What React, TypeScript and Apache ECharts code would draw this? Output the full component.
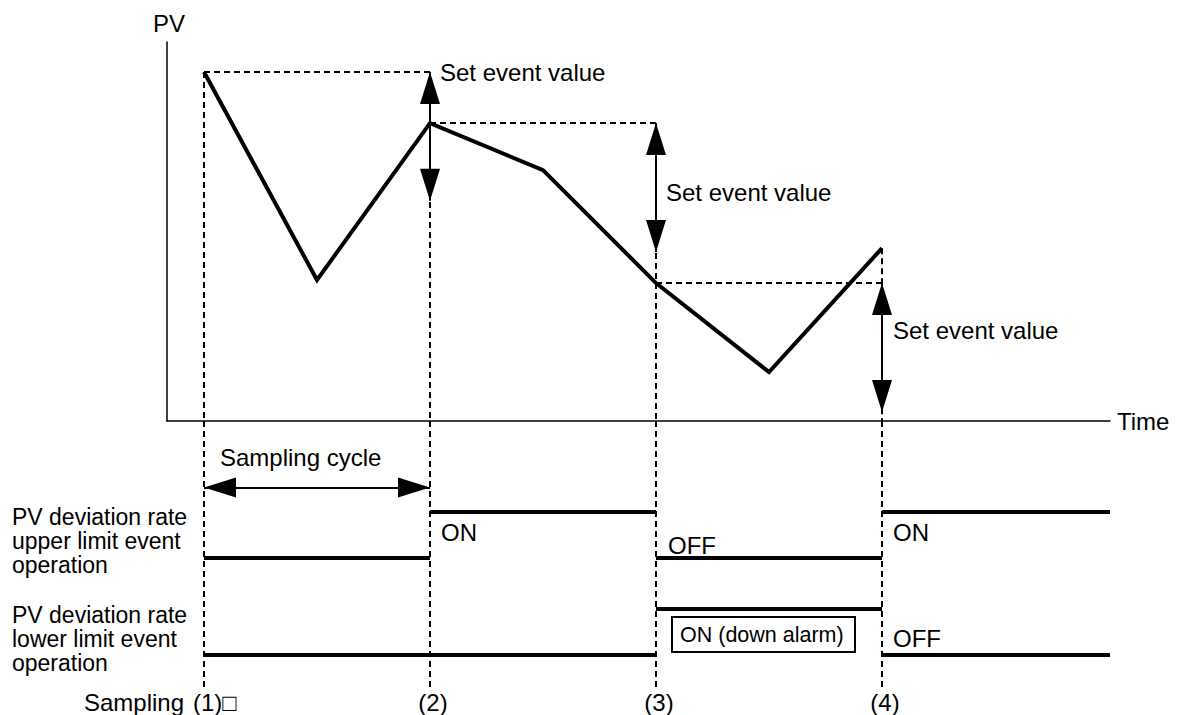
import React, { useEffect, useRef } from "react";
import * as echarts from "echarts";

// ---- data ----
const sampleTimes = [0, 1, 2, 3];
const sampleLabels = ["(1)□", "(2)", "(3)", "(4)"];
const pvTimes = [0, 0.5, 1, 1.5, 2, 2.5, 3];
const pvValues = [92.1, 37.2, 78.6, 66.2, 36.4, 12.9, 45.6];
const setEventValue = 34;
// event states per sampling interval (1 = ON, 0 = OFF)
const upperStates = [0, 1, 0, 1];
const lowerStates = [0, 0, 1, 0];
// lane levels in the timing panel (0..100)
const upperLevels = { on: 66, off: 48.5 };
const lowerLevels = { on: 29.3, off: 12 };
const cycleArrowLevel = 75;
const upperLabel = ["PV deviation rate", "upper limit event", "operation"];
const lowerLabel = ["PV deviation rate", "lower limit event", "operation"];

// ---- layout ----
const X_MIN = -37 / 226;
const X_MAX = 906 / 226;
const FONT = "Liberation Sans, Arial, Helvetica, sans-serif";
const FS = 24;
const ARROW = "path://M0,0M0,32L-10,64L10,64Z";
const ARROW_SIZE = [[20, 64], [20, 64]];

export default function App() {
  const ref = useRef<HTMLDivElement>(null);
  useEffect(() => {
    if (!ref.current) return;
    const chart = echarts.init(ref.current, undefined, { renderer: "svg" });

    const samplePV = sampleTimes.map((t) => pvValues[pvTimes.indexOf(t)]);
    const dashH = samplePV.slice(0, -1).map((v, i) => ({
      coords: [[sampleTimes[i], v], [sampleTimes[i + 1], v]],
    }));
    const dashV0 = sampleTimes.map((t, i) => ({
      coords: [[t, i > 0 ? Math.max(samplePV[i], samplePV[i - 1]) : samplePV[i]], [t, 0]],
    }));
    const dashV1 = sampleTimes.map((t) => ({ coords: [[t, 100], [t, 0]] }));
    const arrows = sampleTimes.slice(1).map((t, i) => ({
      coords: [[t, samplePV[i]], [t, samplePV[i] - setEventValue]],
    }));
    const bounds = [...sampleTimes, X_MAX];
    const laneSegs = (states: number[], lv: { on: number; off: number }) =>
      states.map((s, i) => ({
        coords: [[bounds[i], s ? lv.on : lv.off], [bounds[i + 1], s ? lv.on : lv.off]],
      }));

    const txt = (text: string, x: number, y: number, align = "left", size = FS) => ({
      type: "text",
      x,
      y,
      silent: true,
      style: {
        text,
        fill: "#000",
        fontFamily: FONT,
        fontSize: size,
        align,
        verticalAlign: "middle",
      },
    });

    const dashStyle = { color: "#000", width: 2, opacity: 1, type: [6, 4] as any };
    const hidden = {
      axisTick: { show: false },
      axisLabel: { show: false },
      splitLine: { show: false },
    };

    chart.setOption({
      animation: false,
      grid: [
        { left: 167, top: 42, width: 943, height: 379 },
        { left: 167, top: 421, width: 943, height: 266 },
      ],
      xAxis: [
        {
          gridIndex: 0,
          type: "value",
          min: X_MIN,
          max: X_MAX,
          axisLine: { show: true, onZero: false, lineStyle: { color: "#000", width: 1.5 } },
          ...hidden,
        },
        { gridIndex: 1, type: "value", min: X_MIN, max: X_MAX, show: false },
      ],
      yAxis: [
        {
          gridIndex: 0,
          type: "value",
          min: 0,
          max: 100,
          axisLine: { show: true, onZero: false, lineStyle: { color: "#000", width: 1.5 } },
          ...hidden,
        },
        { gridIndex: 1, type: "value", min: 0, max: 100, show: false },
      ],
      series: [
        {
          type: "lines",
          coordinateSystem: "cartesian2d",
          xAxisIndex: 0,
          yAxisIndex: 0,
          symbol: "none",
          lineStyle: dashStyle,
          data: [...dashH, ...dashV0],
          z: 2,
        },
        {
          type: "lines",
          coordinateSystem: "cartesian2d",
          xAxisIndex: 1,
          yAxisIndex: 1,
          symbol: "none",
          lineStyle: dashStyle,
          data: dashV1,
          z: 2,
        },
        {
          type: "line",
          xAxisIndex: 0,
          yAxisIndex: 0,
          data: pvTimes.map((t, i) => [t, pvValues[i]]),
          symbol: "none",
          lineStyle: { color: "#000", width: 4, join: "miter" },
          z: 5,
        },
        {
          type: "lines",
          coordinateSystem: "cartesian2d",
          xAxisIndex: 0,
          yAxisIndex: 0,
          symbol: [ARROW, ARROW],
          symbolSize: ARROW_SIZE,
          itemStyle: { color: "#000", opacity: 1 },
          lineStyle: { color: "#000", width: 2, opacity: 1, type: "solid" },
          data: arrows,
          z: 6,
        },
        {
          type: "lines",
          coordinateSystem: "cartesian2d",
          xAxisIndex: 1,
          yAxisIndex: 1,
          symbol: [ARROW, ARROW],
          symbolSize: ARROW_SIZE,
          itemStyle: { color: "#000", opacity: 1 },
          lineStyle: { color: "#000", width: 2, opacity: 1, type: "solid" },
          data: [{ coords: [[sampleTimes[0], cycleArrowLevel], [sampleTimes[1], cycleArrowLevel]] }],
          z: 6,
        },
        {
          type: "lines",
          coordinateSystem: "cartesian2d",
          xAxisIndex: 1,
          yAxisIndex: 1,
          symbol: "none",
          lineStyle: { color: "#000", width: 4, opacity: 1, type: "solid" },
          data: [...laneSegs(upperStates, upperLevels), ...laneSegs(lowerStates, lowerLevels)],
          z: 5,
        },
      ],
    });

    const px = (t: number) => chart.convertToPixel({ gridIndex: 0 }, [t, 0])[0];
    const elements: any[] = [
      txt("PV", 169, 23, "center"),
      txt("Time", 1117, 421),
      txt("Set event value", px(sampleTimes[1]) + 10, 72),
      txt("Set event value", px(sampleTimes[2]) + 10, 192),
      txt("Set event value", px(sampleTimes[3]) + 11, 330),
      txt("Sampling cycle", 220, 457),
      txt("ON", px(sampleTimes[1]) + 11, 532),
      txt("OFF", px(sampleTimes[2]) + 12, 545),
      txt("ON", px(sampleTimes[3]) + 11, 532),
      txt("OFF", px(sampleTimes[3]) + 11, 638),
      {
        type: "rect",
        shape: { x: 672, y: 617, width: 183, height: 35 },
        style: { fill: "none", stroke: "#000", lineWidth: 2 },
      },
      txt("ON (down alarm)", 680, 635, "left", 21.5),
      ...upperLabel.map((s, i) => txt(s, 12, 517 + 24 * i, "left", 23)),
      ...lowerLabel.map((s, i) => txt(s, 12, 615 + 24 * i, "left", 23)),
      txt("Sampling", 84, 702),
      txt(sampleLabels[0], 193, 702),
      ...sampleLabels.slice(1).map((s, i) => txt(s, px(sampleTimes[i + 1]) + 3, 702, "center")),
    ];
    chart.setOption({ graphic: { elements } });

    return () => chart.dispose();
  }, []);

  return (
    <div
      ref={ref}
      style={{ position: "absolute", left: 0, top: 0, width: 1183, height: 715, background: "#fff" }}
    />
  );
}
